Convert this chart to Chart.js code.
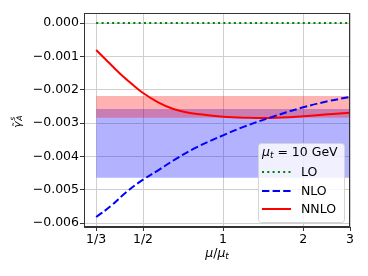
<!DOCTYPE html>
<html>
<head>
<meta charset="utf-8">
<script src="https://cdn.jsdelivr.net/npm/chart.js@4/dist/chart.umd.min.js"></script>
<style>
html, body { margin: 0; padding: 0; background: #fff; }
</style>
</head>
<body>
<canvas id="c" width="368" height="276"></canvas>
<script>
// mu / mu_t positions and gamma values
const loMu = [1 / 3, 3];
const loVals = [0, 0];

const nloMu = [1 / 3, 0.38, 0.43, 0.5, 0.57, 0.67, 0.79, 1, 1.2, 1.5, 2, 2.5, 3];
const nloVals = [-0.00582, -0.00548, -0.00509, -0.0047, -0.00442, -0.00406, -0.00374,
    -0.00337, -0.00311, -0.00284, -0.00253, -0.00234, -0.00222];

const nnloMu = [1 / 3, 0.37, 0.41, 0.46, 0.5, 0.57, 0.65, 0.75, 0.82, 1, 1.2, 1.5, 2, 2.5, 3];
const nnloVals = [-0.00081, -0.00117, -0.00152, -0.00187, -0.0021, -0.00238, -0.00258,
    -0.0027, -0.00274, -0.00281, -0.00284, -0.00285, -0.0028, -0.00274, -0.00269];

// uncertainty bands [upper, lower]
const nloBand = [-0.00258, -0.00464];
const nnloBand = [-0.00219, -0.00284];

const xTicks = [1 / 3, 1 / 2, 1, 2, 3];
const xTickLabels = ['1/3', '1/2', '1', '2', '3'];
const yTicks = [0, -0.001, -0.002, -0.003, -0.004, -0.005, -0.006];

const FONT = 'DejaVu Sans';

const pts = (xs, ys) => xs.map((x, i) => ({ x, y: ys[i] }));
const bandPts = (band) => [{ x: 1 / 3, y: band[1] }, { x: 3, y: band[1] }];

// draw a run of text pieces centred on (cx, cy)
function drawParts(ctx, parts, cx, cy, align = 'center') {
    let w = 0;
    parts.forEach((p) => {
        ctx.font = p.font;
        p.w = ctx.measureText(p.t).width;
        if (!p.stack) w += p.w;
    });
    let x = align === 'center' ? cx - w / 2 : cx;
    const start = x;
    ctx.textBaseline = 'middle';
    ctx.textAlign = 'left';
    parts.forEach((p) => {
        ctx.font = p.font;
        ctx.fillText(p.t, x + (p.dx || 0), cy + (p.dy || 0));
        if (!p.stack) x += p.w;
    });
    return start;
}

const decor = {
    id: 'decor',
    afterDraw(chart) {
        const { ctx, chartArea: a } = chart;
        ctx.save();

        // axes frame
        ctx.strokeStyle = '#333';
        ctx.lineWidth = 1;
        ctx.strokeRect(a.left + 0.5, a.top + 0.5, a.right - a.left - 1, a.bottom - a.top - 1);

        ctx.fillStyle = '#000';
        const it = `italic 12.5px ${FONT}`;
        const rg = `12.5px ${FONT}`;
        const sm = `italic 8.8px ${FONT}`;

        // x title: mu / mu_t
        drawParts(ctx, [
            { t: 'μ', font: it },
            { t: '/', font: rg },
            { t: 'μ', font: it },
            { t: 't', font: sm, dy: 3 },
        ], 217, 254);

        // y title: tilde gamma ^s _A
        ctx.save();
        ctx.translate(17, 122);
        ctx.rotate(-Math.PI / 2);
        const gFont = `italic 11px ${FONT}`;
        const sFont = `italic 7.7px ${FONT}`;
        ctx.font = gFont;
        const gw = ctx.measureText('γ').width;
        const x0 = drawParts(ctx, [
            { t: 'γ', font: gFont, dy: 1 },
            { t: 's', font: sFont, dx: 0.5, dy: -3.5, stack: true },
            { t: 'A', font: sFont, dx: 0.5, dy: 3.5 },
        ], 0, 0);
        ctx.font = `10px ${FONT}`;
        ctx.textAlign = 'center';
        ctx.textBaseline = 'alphabetic';
        ctx.fillText('˜', x0 + gw / 2 + 0.5, 3.5);
        ctx.restore();

        // legend
        const L = { x: 258, y: 143, w: 86, h: 79 };
        ctx.beginPath();
        ctx.roundRect(L.x + 0.5, L.y + 0.5, L.w, L.h, 3);
        ctx.fillStyle = 'rgba(255,255,255,0.8)';
        ctx.fill();
        ctx.strokeStyle = '#d4d4d4';
        ctx.stroke();

        ctx.fillStyle = '#000';
        drawParts(ctx, [
            { t: 'μ', font: it },
            { t: 't', font: sm, dy: 3 },
            { t: ' = 10 GeV', font: rg },
        ], 262, 153, 'left');

        const rows = [172, 191, 209];
        chart.data.datasets.filter((d) => d.label).forEach((d, i) => {
            const y = rows[i];
            ctx.beginPath();
            ctx.setLineDash(d.borderDash || []);
            ctx.strokeStyle = d.borderColor;
            ctx.lineWidth = d.borderWidth;
            ctx.moveTo(262, y);
            ctx.lineTo(291, y);
            ctx.stroke();
            ctx.setLineDash([]);
            ctx.fillStyle = '#000';
            ctx.font = rg;
            ctx.textAlign = 'left';
            ctx.textBaseline = 'middle';
            ctx.fillText(d.label, 301, y + 0.5);
        });
        ctx.restore();
    },
};

const lineDefaults = { pointRadius: 0, borderWidth: 2, fill: false, tension: 0.4 };

new Chart(document.getElementById('c'), {
    type: 'line',
    data: {
        datasets: [
            { ...lineDefaults, label: 'LO', data: pts(loMu, loVals), borderColor: 'rgb(0,128,0)', borderDash: [2, 3.3], order: 0 },
            { ...lineDefaults, label: 'NLO', data: pts(nloMu, nloVals), borderColor: 'rgb(0,0,255)', borderDash: [7.4, 3.2], order: 1 },
            { ...lineDefaults, label: 'NNLO', data: pts(nnloMu, nnloVals), borderColor: 'rgb(255,0,0)', order: 2 },
            { data: bandPts(nnloBand), pointRadius: 0, borderWidth: 0, fill: { value: nnloBand[0] }, backgroundColor: 'rgba(255,0,0,0.3)', order: 10 },
            { data: bandPts(nloBand), pointRadius: 0, borderWidth: 0, fill: { value: nloBand[0] }, backgroundColor: 'rgba(0,0,255,0.3)', order: 11 },
        ],
    },
    options: {
        responsive: false,
        animation: false,
        layout: { padding: { top: 13, right: 18, left: 0, bottom: 0 } },
        plugins: { legend: { display: false }, tooltip: { enabled: false } },
        scales: {
            x: {
                type: 'logarithmic',
                min: 1 / 3,
                max: 3,
                afterBuildTicks: (s) => { s.ticks = xTicks.map((value) => ({ value })); },
                afterFit: (s) => { s.height = 49; },
                ticks: {
                    autoSkip: false,
                    maxRotation: 0,
                    padding: 1,
                    color: '#000',
                    font: { family: FONT, size: 12.5 },
                    callback: (v, i) => xTickLabels[i],
                },
                grid: { color: '#cfcfcf', tickColor: '#333', tickLength: 4 },
                border: { color: '#333' },
            },
            y: {
                min: -0.00612,
                max: 0.0003,
                afterBuildTicks: (s) => { s.ticks = yTicks.map((value) => ({ value })); },
                afterFit: (s) => { s.width = 84; },
                ticks: {
                    padding: 1,
                    color: '#000',
                    font: { family: FONT, size: 12.5 },
                    callback: (v) => (Math.abs(v) < 1e-9 ? '0.000' : (v < 0 ? '\u2212' : '') + Math.abs(v).toFixed(3)),
                },
                grid: { color: '#cfcfcf', tickColor: '#333', tickLength: 4 },
                border: { color: '#333' },
            },
        },
    },
    plugins: [decor],
});
</script>
</body>
</html>
